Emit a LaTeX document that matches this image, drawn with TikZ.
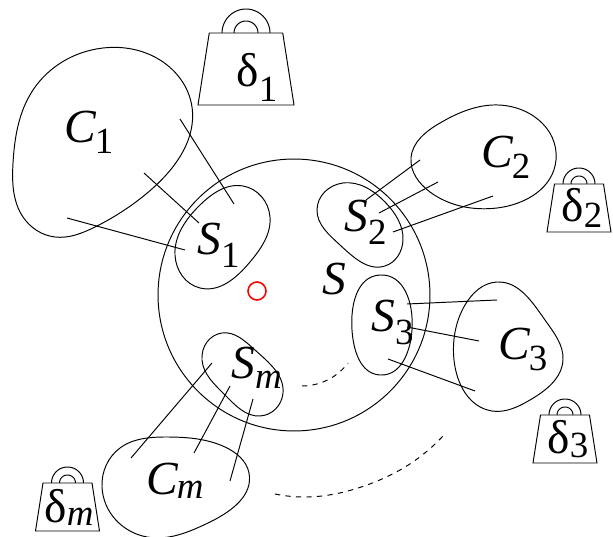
\documentclass[tikz,border=0pt]{standalone}
\usepackage{fontspec}
\setmainfont{Liberation Serif}
\usetikzlibrary{hobby}
\newcommand{\biglab}[4]{\fontsize{27pt}{27pt}\selectfont #1\kern#4\raisebox{-#3}{\fontsize{21pt}{21pt}\selectfont #2}}
\tikzset{
  lab/.style={anchor=base west, inner sep=0pt},
  blob/.style={use Hobby shortcut, closed=true},
  weight/.pic={
    \draw (-32,0) -- (32,0) -- (24.5,-48) -- (-24.5,-48) -- cycle;
    \draw plot[smooth, samples=25, domain=0:180] ({16*cos(\x)}, {-48-16*sin(\x)});
    \draw plot[smooth, samples=25, domain=0:180] ({8*cos(\x)}, {-48-8*sin(\x)});
  }
}

\begin{document}
\begin{tikzpicture}[x=0.02cm, y=-0.02cm, line width=0.55pt]
      \useasboundingbox (0,0) rectangle (613,537);

      \node[circle, draw, inner sep=0pt, minimum size=5.44cm] (S) at (294,295) {};
      \node[circle, draw=red, line width=0.9pt, inner sep=0pt, minimum size=0.36cm] (centre) at (257,291) {};

      % the clusters
      \draw[blob] (103,48) .. (160,60) .. (192,107) .. (153,188) .. (95,227) .. (55,237) .. (23,217) .. (13,163) .. (33,90);
      \draw[blob] (243,186) .. (270,217) .. (250,262) .. (200,288) .. (175,255) .. (200,205);
      \draw[blob] (411,158) .. (440,123) .. (493,105) .. (556,160) .. (497,208) .. (430,192);
      \draw[blob] (343,183) .. (317,210) .. (340,245) .. (385,266) .. (403,240) .. (385,202);
      \draw[blob] (497,282) .. (545,320) .. (563,360) .. (530,400) .. (492,411) .. (454,360) .. (465,305);
      \draw[blob] (380,275) .. (412,330) .. (380,375) .. (352,330);
      \draw[blob] (222,333) .. (202,360) .. (225,395) .. (260,416) .. (283,393) .. (255,350);
      \draw[blob] (167,437) .. (225,447) .. (249,473) .. (210,522) .. (147,537) .. (102,487) .. (120,448);

      \coordinate (c1a) at (180,119); \coordinate (s1a) at (234,204);
      \coordinate (c1b) at (144,173); \coordinate (s1b) at (199,223);
      \coordinate (c1c) at (67,218);  \coordinate (s1c) at (185,250);
      \coordinate (c2a) at (420,160); \coordinate (s2a) at (366,200);
      \coordinate (c2b) at (438,182); \coordinate (s2b) at (379,213);
      \coordinate (c2c) at (493,196); \coordinate (s2c) at (393,232);
      \coordinate (c3a) at (497,300); \coordinate (s3a) at (407,304);
      \coordinate (c3b) at (479,341); \coordinate (s3b) at (407,327);
      \coordinate (c3c) at (475,391); \coordinate (s3c) at (388,359);
      \coordinate (cma) at (131,458); \coordinate (sma) at (212,363);
      \coordinate (cmb) at (194,453); \coordinate (smb) at (230,386);
      \coordinate (cmc) at (230,481); \coordinate (smc) at (253,399);

      \draw (c1a) -- (s1a);
      \draw (c1b) -- (s1b);
      \draw (c1c) -- (s1c);
      \draw (c2a) -- (s2a);
      \draw (c2b) -- (s2b);
      \draw (c2c) -- (s2c);
      \draw (c3a) -- (s3a);
      \draw (c3b) -- (s3b);
      \draw (c3c) -- (s3c);
      \draw (cma) -- (sma);
      \draw (cmb) -- (smb);
      \draw (cmc) -- (smc);

      % the two dashed arcs
      \draw[dashed, use Hobby shortcut] (302,386) .. (323,382) .. (348,363);
      \draw[dashed, use Hobby shortcut] (275,494) .. (307,497) .. (367,485) .. (400,470) .. (443,436);

      \pic[scale=1.5] at (246,105) {weight};
      \pic at (579,232) {weight};
      \pic at (565,463) {weight};
      \pic at (67.5,531) {weight};

      \node[lab] (C1) at (64,143) {\biglab{\textit{C}}{1}{6pt}{-1pt}};
      \node[lab] (S1) at (197,255) {\biglab{\textit{S}}{1}{7pt}{0pt}};
      \node[lab] (C2) at (481,168) {\biglab{\textit{C}}{2}{6pt}{-1pt}};
      \node[lab] (S2) at (344,232) {\biglab{\textit{S}}{2}{7pt}{0pt}};
      \node[lab] (C3) at (498,360) {\biglab{\textit{C}}{3}{6pt}{-1pt}};
      \node[lab] (S3) at (371,332) {\biglab{\textit{S}}{3}{7pt}{0pt}};
      \node[lab] (Cm) at (146,495) {\biglab{\textit{C}}{\textit{m}}{2pt}{-1pt}};
      \node[lab] (Sm) at (231,378) {\biglab{\textit{S}}{\textit{m}}{6pt}{0pt}};
      \node[lab] (Sbig) at (322,295) {\fontsize{27pt}{27pt}\selectfont\textit{S}};

      \node[lab] (d1) at (236,87) {\biglab{δ}{1}{8pt}{0pt}};
      \node[lab] (d2) at (561,222) {\biglab{δ}{2}{3pt}{0pt}};
      \node[lab] (d3) at (547,454) {\biglab{δ}{3}{2pt}{0pt}};
      \node[lab] (dm) at (44,522) {\biglab{δ}{\textit{m}}{2pt}{0pt}};
    \end{tikzpicture}
\end{document}
